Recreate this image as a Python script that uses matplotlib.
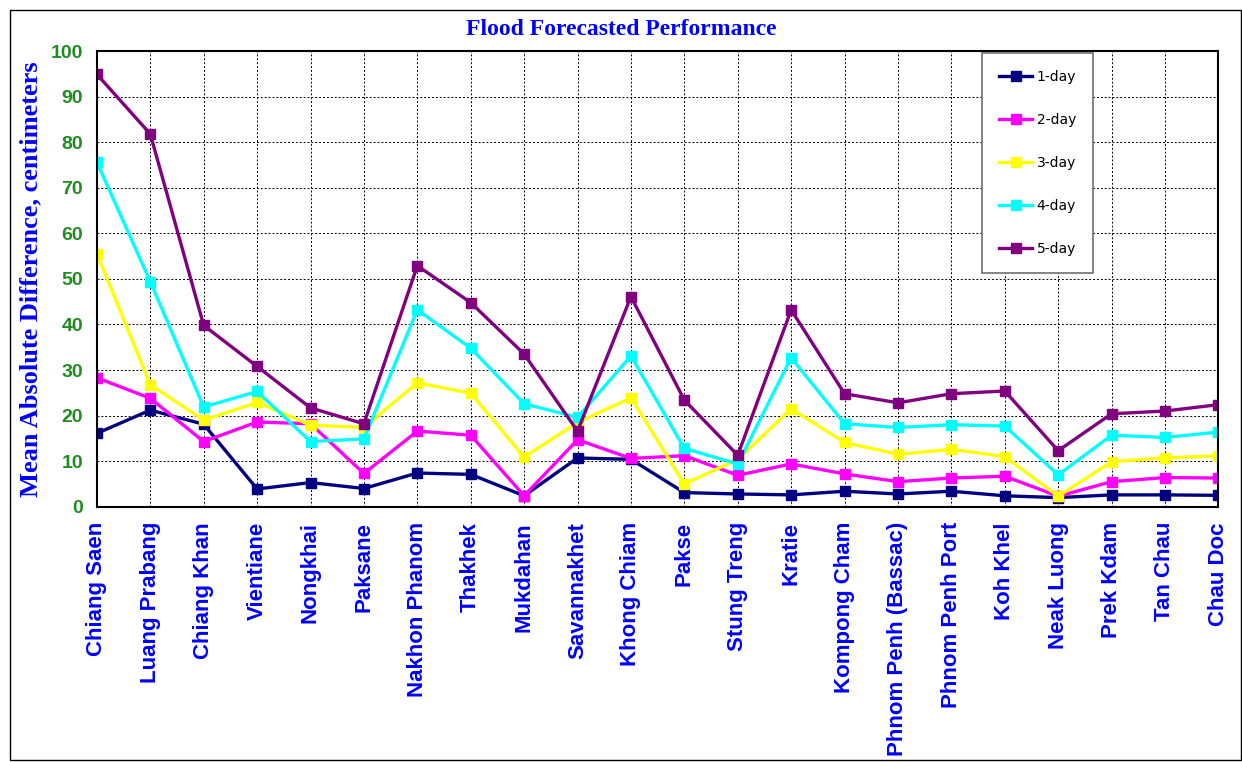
import numpy as np
import matplotlib.pyplot as plt
from matplotlib.patches import Rectangle

stations = ['Chiang Saen', 'Luang Prabang', 'Chiang Khan', 'Vientiane', 'Nongkhai',
            'Paksane', 'Nakhon Phanom', 'Thakhek', 'Mukdahan', 'Savannakhet',
            'Khong Chiam', 'Pakse', 'Stung Treng', 'Kratie', 'Kompong Cham',
            'Phnom Penh (Bassac)', 'Phnom Penh Port', 'Koh Khel', 'Neak Luong',
            'Prek Kdam', 'Tan Chau', 'Chau Doc']

day1 = [16.1, 21.2, 18.1, 3.9, 5.3, 4.0, 7.4, 7.1, 2.4, 10.7, 10.4, 3.1, 2.8, 2.6,
        3.4, 2.8, 3.4, 2.4, 2.0, 2.6, 2.6, 2.5]
day2 = [28.3, 23.8, 14.3, 18.6, 18.2, 7.3, 16.6, 15.7, 2.4, 14.7, 10.6, 11.2, 6.9, 9.4,
        7.2, 5.5, 6.3, 6.7, 2.3, 5.5, 6.4, 6.3]
day3 = [55.5, 26.8, 19.0, 22.9, 17.9, 17.4, 27.2, 24.9, 10.9, 18.5, 23.9, 5.0, 10.4, 21.5,
        14.1, 11.5, 12.6, 11.0, 2.3, 9.9, 10.7, 11.2]
day4 = [75.6, 49.4, 21.9, 25.3, 14.3, 14.9, 43.2, 34.8, 22.6, 19.6, 33.1, 12.8, 9.4, 32.7,
        18.2, 17.4, 18.0, 17.7, 7.0, 15.7, 15.2, 16.4]
day5 = [94.9, 81.8, 39.8, 30.8, 21.7, 18.2, 52.9, 44.8, 33.5, 16.6, 46.1, 23.4, 11.3, 43.2,
        24.8, 22.8, 24.8, 25.4, 12.3, 20.4, 21.0, 22.4]

series = [('1-day', day1, '#000080'), ('2-day', day2, '#FF00FF'),
          ('3-day', day3, '#FFFF00'), ('4-day', day4, '#00FFFF'),
          ('5-day', day5, '#800080')]

fig = plt.figure(figsize=(12.42, 7.62), dpi=100)
ax = fig.add_axes([0.078, 0.335, 0.903, 0.598])

x = np.arange(len(stations))
for name, vals, col in series:
    ax.plot(x, vals, color=col, lw=2.4, marker='s', ms=7, label=name)

ax.set_xlim(0, len(stations) - 1)
ax.set_ylim(0, 100)
ax.set_yticks(np.arange(0, 101, 10))
ax.set_xticks(x)
ax.set_xticklabels(stations, rotation=90, color='#0000FF', fontsize=16,
                   fontweight='bold', family='Liberation Sans')
for lab in ax.get_yticklabels():
    lab.set_color('#1E8C1E')
    lab.set_fontsize(14)
    lab.set_fontweight('bold')
    lab.set_family('Liberation Sans')
ax.tick_params(axis='y', length=0, pad=10)
ax.tick_params(axis='x', length=0, pad=11)
ax.grid(True, color='black', linestyle=(0, (2, 2)), lw=0.7)
for s in ax.spines.values():
    s.set_linewidth(1.5)
    s.set_color('black')

ax.set_ylabel('Mean Absolute Difference, centimeters', color='#0000FF', fontsize=19,
              fontweight='bold', family='Liberation Serif', labelpad=6)
fig.text(0.5, 0.961, 'Flood Forecasted Performance', ha='center', va='center',
         color='#0000FF', fontsize=17, fontweight='bold', family='Liberation Serif')

leg = ax.legend(loc='upper right', bbox_to_anchor=(0.888, 0.996), borderaxespad=0,
                fontsize=10, labelspacing=2.1, handlelength=2.4, handletextpad=0.3,
                borderpad=1.2, fancybox=False, framealpha=1)
leg.get_frame().set_edgecolor('#707070')
leg.get_frame().set_linewidth(1.2)

fig.patches.append(Rectangle((0.008, 0.003), 0.991, 0.984, transform=fig.transFigure,
                             fill=False, edgecolor='black', lw=1))

plt.savefig('out.png', dpi=100)
